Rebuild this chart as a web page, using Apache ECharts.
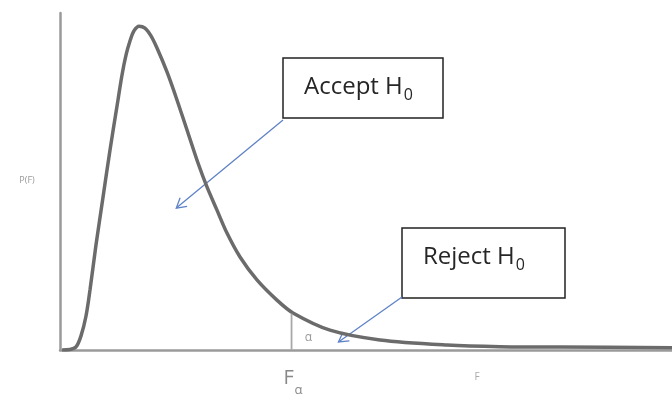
<!DOCTYPE html>
<html>
<head>
<meta charset="utf-8">
<script src="https://cdn.jsdelivr.net/npm/echarts@6/dist/echarts.min.js"></script>
<style>
  html, body { margin: 0; padding: 0; background: #fff; }
  #chart { width: 672px; height: 394px; }
</style>
</head>
<body>
<div id="chart"></div>
<script>
// F value (x) and density P(F) (y)
const fValues = [0.020, 0.098, 0.157, 0.206, 0.255, 0.294, 0.353, 0.422, 0.490, 0.559, 0.608, 0.647, 0.686, 0.725, 0.775, 0.833, 0.892, 0.951, 1.049, 1.147, 1.255, 1.353, 1.441, 1.539, 1.637, 1.765, 1.931, 2.127, 2.284, 2.647, 3.137, 3.794, 4.314, 4.902, 6.0];
const density = [0, 0.0015, 0.009, 0.042, 0.101, 0.178, 0.312, 0.454, 0.593, 0.724, 0.816, 0.875, 0.917, 0.947, 0.961, 0.955, 0.932, 0.896, 0.825, 0.742, 0.644, 0.555, 0.484, 0.415, 0.347, 0.276, 0.208, 0.148, 0.110, 0.059, 0.030, 0.015, 0.010, 0.009, 0.007];
const fAlpha = 2.27;
const fAlphaHeight = 0.108;
// arrow tips (data coords)
const acceptTip = [1.14, 0.421];
const rejectTip = [2.73, 0.024];

const chart = echarts.init(document.getElementById("chart"));
const curve = fValues.map((x, i) => [x, density[i]]);

const axisGray = "#9a9a9a";
const font = "'Open Sans', 'Liberation Sans', sans-serif";

chart.setOption({
  animation: false,
  grid: { left: 60, right: 0, top: 13, bottom: 44 },
  xAxis: {
    type: "value", min: 0, max: 6,
    axisLine: { show: true, onZero: false, lineStyle: { color: axisGray, width: 2.5 } },
    axisTick: { show: false }, axisLabel: { show: false }, splitLine: { show: false }
  },
  yAxis: {
    type: "value", min: 0, max: 1,
    axisLine: { show: true, lineStyle: { color: axisGray, width: 2.5 } },
    axisTick: { show: false }, axisLabel: { show: false }, splitLine: { show: false }
  },
  series: [
    {
      type: "line",
      data: curve,
      smooth: 0.3,
      showSymbol: false,
      lineStyle: { color: "#6b6b6b", width: 3.5 }
    },
    {
      type: "line",
      data: [[fAlpha, 0], [fAlpha, fAlphaHeight]],
      showSymbol: false,
      lineStyle: { color: "#a8a8a8", width: 1.8 }
    }
  ]
});

function arrow(from, to, color) {
  const dx = to[0] - from[0], dy = to[1] - from[1];
  const len = Math.sqrt(dx * dx + dy * dy);
  const ux = dx / len, uy = dy / len;
  const head = 11, ang = Math.PI / 6;
  const p1 = [to[0] - head * (ux * Math.cos(ang) - uy * Math.sin(ang)), to[1] - head * (uy * Math.cos(ang) + ux * Math.sin(ang))];
  const p2 = [to[0] - head * (ux * Math.cos(-ang) - uy * Math.sin(-ang)), to[1] - head * (uy * Math.cos(-ang) + ux * Math.sin(-ang))];
  return [
    { type: "line", shape: { x1: from[0], y1: from[1], x2: to[0], y2: to[1] }, style: { stroke: color, lineWidth: 1.3 } },
    { type: "polyline", shape: { points: [p1, to, p2] }, style: { stroke: color, lineWidth: 1.3, fill: null } }
  ];
}

function textWidth(str, size) {
  const ctx = document.createElement("canvas").getContext("2d");
  ctx.font = size + "px " + font;
  return ctx.measureText(str).width;
}

function labelH0(word, x, y) {
  const w = textWidth(word, 24);
  return [
    { type: "text", x: x, y: y, style: { text: word, font: "24px " + font, fill: "#262626", textVerticalAlign: "middle" } },
    { type: "text", x: x + w + 1, y: y + 8, style: { text: "0", font: "16px " + font, fill: "#262626", textVerticalAlign: "middle" } }
  ];
}

const blue = "#5f82c6";
const accTip = chart.convertToPixel({ gridIndex: 0 }, acceptTip);
const rejTip = chart.convertToPixel({ gridIndex: 0 }, rejectTip);
const faPx = chart.convertToPixel({ gridIndex: 0 }, [fAlpha, 0]);

chart.setOption({
  graphic: [
    { type: "rect", shape: { x: 283, y: 58, width: 160, height: 60 }, style: { fill: "#fff", stroke: "#222", lineWidth: 1.5 } },
    ...labelH0("Accept H", 304, 87),
    { type: "rect", shape: { x: 402, y: 228, width: 163, height: 70 }, style: { fill: "#fff", stroke: "#222", lineWidth: 1.5 } },
    ...labelH0("Reject H", 423, 257),
    ...arrow([283, 120], accTip, blue),
    ...arrow([402, 297], rejTip, blue),
    { type: "text", x: faPx[0] + 17, y: faPx[1] - 12, style: { text: "α", font: "12px " + font, fill: "#999", textAlign: "center", textVerticalAlign: "middle" } },
    { type: "text", x: faPx[0] - 8, y: faPx[1] + 28, style: { text: "F", font: "20px " + font, fill: "#888", textVerticalAlign: "middle" } },
    { type: "text", x: faPx[0] + 3, y: faPx[1] + 40, style: { text: "α", font: "13px " + font, fill: "#888", textVerticalAlign: "middle" } },
    { type: "text", x: 477, y: 377, style: { text: "F", font: "10px " + font, fill: "#aaa", textAlign: "center", textVerticalAlign: "middle" } },
    { type: "text", x: 27, y: 180, style: { text: "P(F)", font: "9px " + font, fill: "#999", textAlign: "center", textVerticalAlign: "middle" } }
  ]
});
</script>
</body>
</html>
